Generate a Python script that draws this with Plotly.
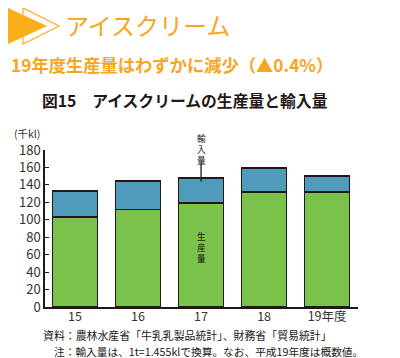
import plotly.graph_objects as go

years = ["15", "16", "17", "18", "19年度"]
production = [103, 112, 119, 132, 132]
imports = [30, 32.5, 29, 27.5, 18]
y_ticks = list(range(0, 181, 20))

# page body has an 8px margin, so the figure is drawn at (8, 8)
OFF = 8
W, H = 400 - OFF, 358 - OFF
L, R, T, B = 45 - OFF, 42, 150 - OFF, 51
PW, PH = W - L - R, H - T - B

def px(x):
    return (x - OFF - L) / PW

def py(y):
    return (H - B - (y - OFF)) / PH

FONT = "Noto Sans CJK JP"
ORANGE = "#F7A51E"
DARK = "#231815"

fig = go.Figure()
fig.add_bar(x=years, y=production, name="生産量",
            marker=dict(color="#7BC24A", line=dict(color=DARK, width=1.5)),
            width=0.71)
fig.add_bar(x=years, y=imports, name="輸入量",
            marker=dict(color="#4F9BBB", line=dict(color=DARK, width=1.5)),
            width=0.71)

top17 = production[2] + imports[2]

fig.update_layout(
    width=W, height=H, barmode="stack", showlegend=False,
    margin=dict(l=L, r=R, t=T, b=B),
    paper_bgcolor="white", plot_bgcolor="white",
    font=dict(family=FONT, color="#333333", size=13),
    xaxis=dict(type="category", range=[-0.476, 4.49], showline=True, linecolor=DARK,
               linewidth=1.5, ticks="", tickfont=dict(size=12.5, color="#333333"),
               ticklabelstandoff=-3, fixedrange=True),
    yaxis=dict(range=[0, 180], tickvals=y_ticks, showline=True, linecolor=DARK,
               linewidth=1.5, ticks="inside", ticklen=4, tickcolor=DARK,
               showgrid=False, zeroline=False,
               tickfont=dict(size=13, color="#333333"), fixedrange=True),
)

# decorative triangles
def path(pts):
    return "M " + " L ".join(f"{px(a):.4f},{py(b):.4f}" for a, b in pts) + " Z"

fig.add_shape(type="path", xref="paper", yref="paper",
              path=path([(23, 8), (59, 26), (23, 44)]),
              line=dict(color="#F9AE1A", width=1.2), fillcolor="rgba(0,0,0,0)")
fig.add_shape(type="path", xref="paper", yref="paper",
              path=path([(8, 8), (47, 26), (8, 44)]),
              line=dict(color="#F9AE1A", width=0), fillcolor="#F9AE1A")

def text(x, y, s, size, color, bold=False, anchor="left"):
    fig.add_annotation(x=px(x), y=py(y), xref="paper", yref="paper",
                       text=(f"<b>{s}</b>" if bold else s),
                       showarrow=False, xanchor=anchor, yanchor="middle",
                       font=dict(family=FONT, size=size, color=color))

text(63, 24, "アイスクリーム", 24, ORANGE)
text(9, 65, "19年度生産量はわずかに減少（▲0.4%）", 17.3, ORANGE, bold=True)
text(40, 100, "図15　アイスクリームの生産量と輸入量", 15.8, DARK, bold=True)
text(12, 133.5, "(千kl)", 10.5, "#333333")
text(41, 335, "資料：農林水産省「牛乳乳製品統計」、財務省「貿易統計」", 10.9, DARK)
text(52, 351, "注：輸入量は、1t=1.455klで換算。なお、平成19年度は概数値。", 10.7, DARK)

# vertical labels
def vlabel(xi, chars, y_center_px):
    fig.add_annotation(x=xi, y=py(y_center_px), xref="x", yref="paper",
                       text="<br>".join(chars), showarrow=False, yanchor="middle",
                       font=dict(family=FONT, size=8.6, color=DARK))

vlabel(2, "輸入量", 149.5)
vlabel(2, "生産量", 247)
fig.add_shape(type="line", x0=2, x1=2, y0=top17 + 16, y1=top17 - 4,
              line=dict(color=DARK, width=1.3))

fig.write_html("out.html")
